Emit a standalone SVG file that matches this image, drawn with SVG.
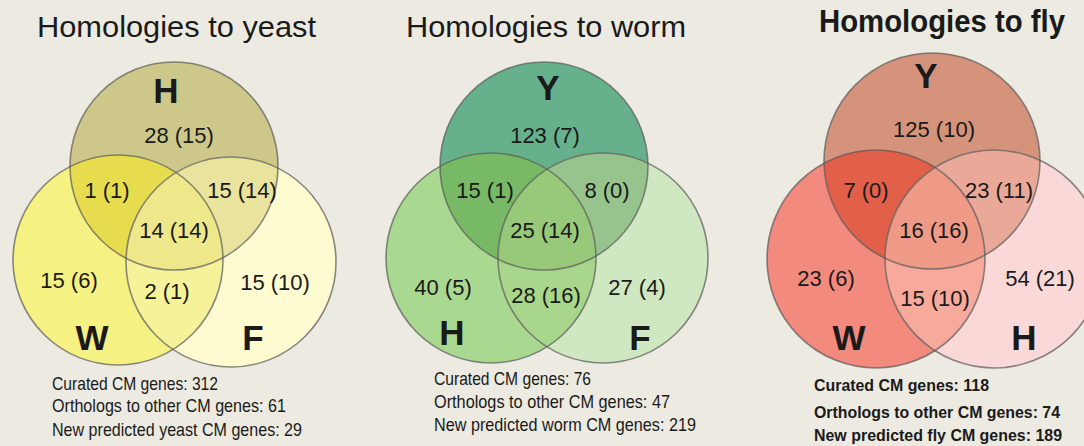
<svg xmlns="http://www.w3.org/2000/svg" width="1084" height="446" viewBox="0 0 1084 446">
<style>
.title{font-family:"Liberation Sans",Arial,sans-serif;font-size:30px;fill:#1a1a1a}
.titleb{font-family:"Liberation Sans",Arial,sans-serif;font-size:31px;font-weight:bold;fill:#1a1a1a}
.num{font-family:"Liberation Sans",Arial,sans-serif;font-size:22px;fill:#1a1a1a;text-anchor:middle}
.lab{font-family:"Liberation Sans",Arial,sans-serif;font-size:35px;font-weight:bold;fill:#1a1a1a;text-anchor:middle}
.foot{font-family:"Liberation Sans",Arial,sans-serif;font-size:19px;fill:#1a1a1a}
.footb{font-family:"Liberation Sans",Arial,sans-serif;font-size:17px;font-weight:bold;fill:#1a1a1a}
.edge{fill:none;stroke:#5a5a5a;stroke-opacity:0.7;stroke-width:1.6}
</style>
<defs>
<clipPath id="cyH"><circle cx="174" cy="166" r="104"/></clipPath>
<clipPath id="cyW"><circle cx="118" cy="260" r="105"/></clipPath>
<clipPath id="cyF"><circle cx="231" cy="262" r="105"/></clipPath>
<clipPath id="cwY"><circle cx="544" cy="166" r="104"/></clipPath>
<clipPath id="cwH"><circle cx="491" cy="258" r="105"/></clipPath>
<clipPath id="cwF"><circle cx="603" cy="258" r="105"/></clipPath>
<clipPath id="cfY"><circle cx="932" cy="161" r="108"/></clipPath>
<clipPath id="cfW"><circle cx="876" cy="259" r="109"/></clipPath>
<clipPath id="cfH"><circle cx="994" cy="259" r="109"/></clipPath>
</defs>
<rect width="1084" height="446" fill="#eceae1"/>

<!-- Yeast panel -->
<g id="yeast">
<text class="title" x="37" y="37" textLength="279" lengthAdjust="spacingAndGlyphs">Homologies to yeast</text>
<g id="yeast-H"><circle cx="174" cy="166" r="104" fill="#cdc88a"/></g>
<g id="yeast-W"><circle cx="118" cy="260" r="105" fill="#f6f183"/></g>
<g id="yeast-F"><circle cx="231" cy="262" r="105" fill="#fdfbcf"/></g>
<g id="yeast-overlaps">
<circle cx="118" cy="260" r="105" fill="#e6dc4e" clip-path="url(#cyH)"/>
<circle cx="231" cy="262" r="105" fill="#e9e39e" clip-path="url(#cyH)"/>
<circle cx="231" cy="262" r="105" fill="#f6f29a" clip-path="url(#cyW)"/>
<g clip-path="url(#cyH)"><circle cx="231" cy="262" r="105" fill="#efe88a" clip-path="url(#cyW)"/></g>
</g>
<g id="yeast-edges">
<circle class="edge" cx="174" cy="166" r="104"/>
<circle class="edge" cx="118" cy="260" r="105"/>
<circle class="edge" cx="231" cy="262" r="105"/>
</g>
<text class="lab" x="166" y="103">H</text>
<text class="lab" x="92" y="350">W</text>
<text class="lab" x="253" y="350">F</text>
<text class="num" x="179" y="143">28 (15)</text>
<text class="num" x="107" y="198">1 (1)</text>
<text class="num" x="242" y="198">15 (14)</text>
<text class="num" x="174" y="238">14 (14)</text>
<text class="num" x="69" y="288">15 (6)</text>
<text class="num" x="167" y="299">2 (1)</text>
<text class="num" x="275" y="290">15 (10)</text>
<text class="foot" x="52" y="390" textLength="166" lengthAdjust="spacingAndGlyphs">Curated CM genes: 312</text>
<text class="foot" x="52" y="412" textLength="234" lengthAdjust="spacingAndGlyphs">Orthologs to other CM genes: 61</text>
<text class="foot" x="52" y="436" textLength="250" lengthAdjust="spacingAndGlyphs">New predicted yeast CM genes: 29</text>
</g>

<!-- Worm panel -->
<g id="worm">
<text class="title" x="406" y="37" textLength="280" lengthAdjust="spacingAndGlyphs">Homologies to worm</text>
<g id="worm-Y"><circle cx="544" cy="166" r="104" fill="#66b08c"/></g>
<g id="worm-H"><circle cx="491" cy="258" r="105" fill="#a9d890"/></g>
<g id="worm-F"><circle cx="603" cy="258" r="105" fill="#cfe8c2"/></g>
<g id="worm-overlaps">
<circle cx="491" cy="258" r="105" fill="#77b964" clip-path="url(#cwY)"/>
<circle cx="603" cy="258" r="105" fill="#96c48c" clip-path="url(#cwY)"/>
<circle cx="603" cy="258" r="105" fill="#a8d68a" clip-path="url(#cwH)"/>
<g clip-path="url(#cwY)"><circle cx="603" cy="258" r="105" fill="#98c97a" clip-path="url(#cwH)"/></g>
</g>
<g id="worm-edges">
<circle class="edge" cx="544" cy="166" r="104"/>
<circle class="edge" cx="491" cy="258" r="105"/>
<circle class="edge" cx="603" cy="258" r="105"/>
</g>
<text class="lab" x="548" y="100">Y</text>
<text class="lab" x="452" y="345">H</text>
<text class="lab" x="640" y="350">F</text>
<text class="num" x="545" y="143">123 (7)</text>
<text class="num" x="485" y="198">15 (1)</text>
<text class="num" x="607" y="198">8 (0)</text>
<text class="num" x="545" y="238">25 (14)</text>
<text class="num" x="443" y="295">40 (5)</text>
<text class="num" x="546" y="303">28 (16)</text>
<text class="num" x="637" y="295">27 (4)</text>
<text class="foot" x="434" y="385" textLength="157" lengthAdjust="spacingAndGlyphs">Curated CM genes: 76</text>
<text class="foot" x="434" y="408" textLength="236" lengthAdjust="spacingAndGlyphs">Orthologs to other CM genes: 47</text>
<text class="foot" x="434" y="431" textLength="262" lengthAdjust="spacingAndGlyphs">New predicted worm CM genes: 219</text>
</g>

<!-- Fly panel -->
<g id="fly">
<text class="titleb" x="819" y="32" textLength="246" lengthAdjust="spacingAndGlyphs">Homologies to fly</text>
<g id="fly-Y"><circle cx="932" cy="161" r="108" fill="#d6937c"/></g>
<g id="fly-W"><circle cx="876" cy="259" r="109" fill="#f38a7e"/></g>
<g id="fly-H"><circle cx="994" cy="259" r="109" fill="#fbd8d8"/></g>
<g id="fly-overlaps">
<circle cx="876" cy="259" r="109" fill="#e2604a" clip-path="url(#cfY)"/>
<circle cx="994" cy="259" r="109" fill="#eaa998" clip-path="url(#cfY)"/>
<circle cx="994" cy="259" r="109" fill="#f7aa9c" clip-path="url(#cfW)"/>
<g clip-path="url(#cfY)"><circle cx="994" cy="259" r="109" fill="#ef9a86" clip-path="url(#cfW)"/></g>
</g>
<g id="fly-edges">
<circle class="edge" cx="932" cy="161" r="108"/>
<circle class="edge" cx="876" cy="259" r="109"/>
<circle class="edge" cx="994" cy="259" r="109"/>
</g>
<text class="lab" x="926" y="88">Y</text>
<text class="lab" x="849" y="350">W</text>
<text class="lab" x="1024" y="350">H</text>
<text class="num" x="934" y="137">125 (10)</text>
<text class="num" x="866" y="198">7 (0)</text>
<text class="num" x="999" y="198">23 (11)</text>
<text class="num" x="934" y="238">16 (16)</text>
<text class="num" x="826" y="286">23 (6)</text>
<text class="num" x="935" y="306">15 (10)</text>
<text class="num" x="1040" y="286">54 (21)</text>
<text class="footb" x="814" y="391" textLength="175" lengthAdjust="spacingAndGlyphs">Curated CM genes: 118</text>
<text class="footb" x="814" y="418" textLength="246" lengthAdjust="spacingAndGlyphs">Orthologs to other CM genes: 74</text>
<text class="footb" x="814" y="441" textLength="248" lengthAdjust="spacingAndGlyphs">New predicted fly CM genes: 189</text>
</g>
</svg>
